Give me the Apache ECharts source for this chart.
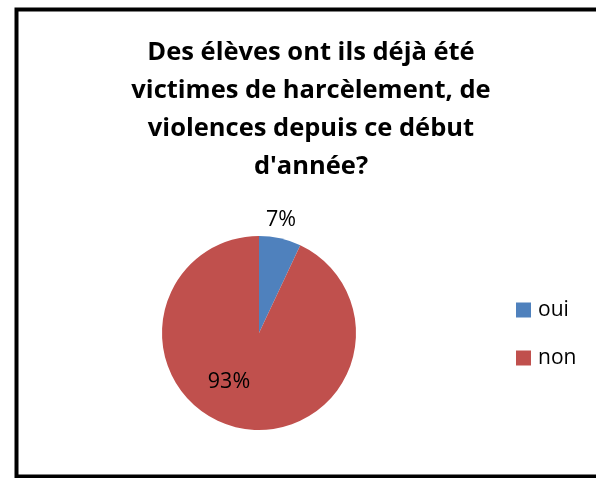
<!DOCTYPE html>
<html><head><meta charset="utf-8">
<script src="https://cdn.jsdelivr.net/npm/echarts@6/dist/echarts.min.js"></script>
<style>html,body{margin:0;padding:0;background:#fff}#c{width:596px;height:478px}</style>
</head><body><div id="c"></div>
<script>
const titleLines = ["Des élèves ont ils déjà été", "victimes de harcèlement, de", "violences depuis ce début", "d'année?"];
const categories = ["oui", "non"];
const values = [7, 93];
const colors = ["#4F81BD", "#C0504D"];
const labelPos = [[281, 220], [229, 382]];

const chart = echarts.init(document.getElementById('c'));
chart.setOption({
  animation: false,
  title: {
    text: titleLines.join("\n"),
    left: 311, top: 34, textAlign: 'center', padding: 0,
    textStyle: {fontFamily: 'Open Sans', fontWeight: 'bold', fontSize: 25.5, lineHeight: 38, color: '#000'}
  },
  legend: {
    orient: 'vertical', left: 516, top: 296, itemWidth: 15, itemHeight: 15, itemGap: 20,
    icon: 'rect', padding: 0,
    textStyle: {fontFamily: 'Open Sans', fontSize: 21, lineHeight: 28, color: '#000', padding: [0,0,0,2]},
    data: categories
  },
  color: colors,
  graphic: [{type: 'rect', shape: {x: 16.5, y: 9.5, width: 600, height: 467}, style: {fill: 'none', stroke: '#000', lineWidth: 4}, silent: true}],
  series: [{
    type: 'pie', center: [259, 333], radius: 97, startAngle: 90, clockwise: true,
    label: {show: true, position: 'inside', formatter: '{c}%', fontFamily: 'Open Sans', fontSize: 21.5, color: '#000'},
    labelLine: {show: false},
    labelLayout: function (p) { return {x: labelPos[p.dataIndex][0], y: labelPos[p.dataIndex][1], align: 'center', verticalAlign: 'middle'}; },
    itemStyle: {borderColor: '#fff', borderWidth: 0},
    data: categories.map((n, i) => ({name: n, value: values[i]}))
  }]
});
</script></body></html>
